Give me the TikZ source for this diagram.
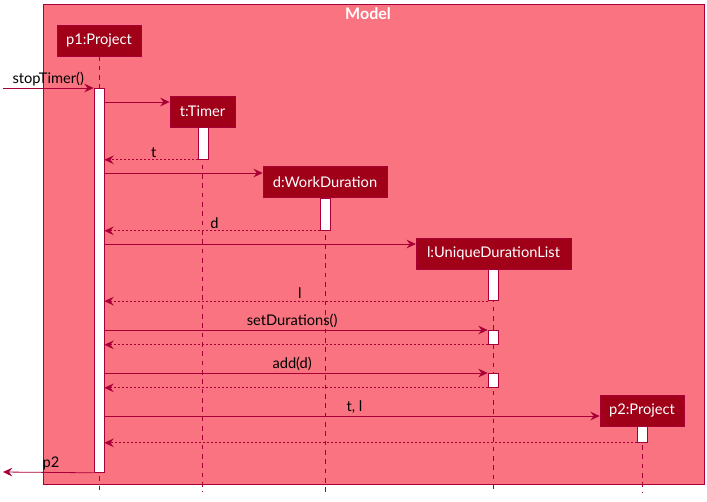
\documentclass[tikz,border=0pt]{standalone}
\usepackage{fontspec}
\setmainfont{Lato}
\usetikzlibrary{arrows.meta}
\definecolor{modelbg}{RGB}{250,115,128}
\definecolor{boxred}{RGB}{160,0,24}
\definecolor{linered}{RGB}{168,0,54}
\begin{document}
\begin{tikzpicture}[x=0.75pt, y=-0.75pt, >={Stealth[length=7pt, width=6.5pt, inset=2.5pt]},
	font=\fontsize{11}{13}\selectfont,
	part/.style={rectangle, fill=boxred, draw=linered, line width=0.4pt, text=white, minimum height=23.5pt, inner xsep=2pt},
	bar/.style={rectangle, fill=white, draw=linered, line width=0.6pt, minimum width=7.5pt, inner sep=0pt, anchor=north},
	life/.style={draw=linered, line width=0.5pt, dash pattern=on 3.5pt off 3.5pt},
	msg/.style={->, draw=linered, line width=0.6pt},
	ret/.style={->, draw=linered, line width=0.6pt, dash pattern=on 1.5pt off 1.5pt},
	lbl/.style={text=black, inner sep=1.5pt}]
	\useasboundingbox (0,0) rectangle (707,501);
	% frame
	\draw[fill=modelbg, draw=linered, line width=0.6pt] (43,4) rectangle (704,484);
	\node[text=white, font=\fontsize{12}{14}\bfseries\selectfont] (title) at (368,14) {Model};
	% participants
	\node[part, minimum width=63pt] (p1) at (99,40.5) {p1:Project};
	\node[part, minimum width=49pt] (t) at (202.5,111.5) {t:Timer};
	\node[part, minimum width=93pt] (d) at (325,182) {d:WorkDuration};
	\node[part, minimum width=116pt] (l) at (493.5,253.5) {l:UniqueDurationList};
	\node[part, minimum width=63pt] (p2) at (642,410.5) {p2:Project};
	% lifelines
	\foreach \p in {p1,t,d,l,p2}
		\draw[life] (\p.south) -- (\p.south |- 0,492);
	% activations
	\node[bar, minimum height=288pt] (a1) at (99,88) {};
	\node[bar, minimum height=24pt] (at) at (203,127) {};
	\node[bar, minimum height=24pt] (ad) at (325.5,198) {};
	\node[bar, minimum height=23.5pt] (al) at (493,269) {};
	\node[bar, minimum height=10.5pt] (al2) at (493,330) {};
	\node[bar, minimum height=10.5pt] (al3) at (493,373) {};
	\node[bar, minimum height=12pt] (ap2) at (642,426) {};
	\coordinate (in) at (3,88);
	\coordinate (out) at (3,472);
	% messages
	\draw[msg] (in) -- node[lbl, above] {stopTimer()} (a1.north west);
	\draw[msg] (a1.east |- 0,102) -- (t.west |- 0,102);
	\draw[ret] (at.south west) -- node[lbl, above, pos=0.47] {t} (a1.east |- at.south);
	\draw[msg] (a1.east |- 0,173) -- (d.west |- 0,173);
	\draw[ret] (ad.south west) -- node[lbl, above, pos=0.49] {d} (a1.east |- ad.south);
	\draw[msg] (a1.east |- 0,244) -- (l.west |- 0,244);
	\draw[ret] (al.south west) -- node[lbl, above, pos=0.49] {l} (a1.east |- al.south);
	\draw[msg] (a1.east |- al2.north) -- node[lbl, above, pos=0.49] {setDurations()} (al2.north west);
	\draw[ret] (al2.south west) -- (a1.east |- al2.south);
	\draw[msg] (a1.east |- al3.north) -- node[lbl, above, pos=0.49] {add(d)} (al3.north west);
	\draw[ret] (al3.south west) -- (a1.east |- al3.south);
	\draw[msg] (a1.east |- 0,416) -- node[lbl, above, pos=0.505] {t, l} (p2.west |- 0,416);
	\draw[ret] (ap2.south west) -- (a1.east |- ap2.south);
	\draw[msg] (a1.south west) -- node[lbl, above, pos=0.47] {p2} (out);
\end{tikzpicture}
\end{document}
